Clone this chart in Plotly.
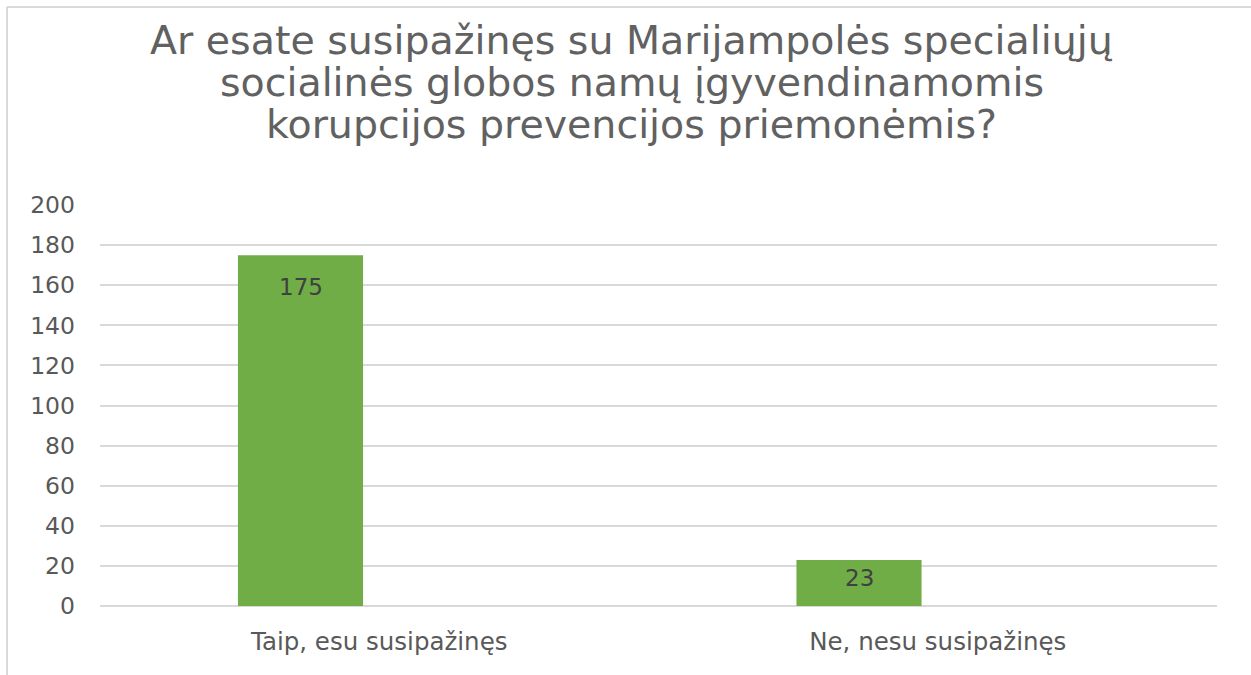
import plotly.graph_objects as go

categories = ["Taip, esu susipažinęs", "Ne, nesu susipažinęs"]
values = [175, 23]
y_ticks = [0, 20, 40, 60, 80, 100, 120, 140, 160, 180, 200]
title_lines = ["Ar esate susipažinęs su Marijampolės specialiųjų",
               "socialinės globos namų įgyvendinamomis",
               "korupcijos prevencijos priemonėmis?"]

W, H = 1251, 675
ML, MR, MT, MB = 100, 34, 205, 69
PW, PH = W - ML - MR, H - MT - MB

FONT = "DejaVu Sans"
GREY = "#595959"
GREEN = "#70AD47"


def px_to_paper_x(px):
    return (px - ML) / PW


def px_to_paper_y(py):
    return (H - MB - py) / PH


fig = go.Figure()
fig.add_trace(go.Bar(
    x=categories, y=values,
    marker=dict(color=GREEN, line=dict(width=0)),
    width=0.224, offset=-0.253,
    hoverinfo="skip",
))

label_shift = [-32, -18]
for c, v, s in zip(categories, values, label_shift):
    fig.add_annotation(x=c, y=v, text=str(v), showarrow=False,
                       xshift=-78, yshift=s, yanchor="middle",
                       font=dict(family=FONT, size=23, color="#404040"))

# title, one annotation per line (tight line spacing as in reference)
title_centers = [40, 82, 124]
for line, cy in zip(title_lines, title_centers):
    fig.add_annotation(xref="paper", yref="paper", x=px_to_paper_x(631.5),
                       y=px_to_paper_y(cy), text=line, showarrow=False,
                       xanchor="center", yanchor="middle",
                       font=dict(family=FONT, size=39.5, color="#616161"))

# chart border (top and left visible)
bx = px_to_paper_x(7)
by = px_to_paper_y(7)
fig.add_shape(type="line", xref="paper", yref="paper", x0=bx, x1=1.2, y0=by, y1=by,
              line=dict(color="#d9d9d9", width=2))
fig.add_shape(type="line", xref="paper", yref="paper", x0=bx, x1=bx, y0=by, y1=-0.3,
              line=dict(color="#d9d9d9", width=2))

fig.update_layout(
    width=W, height=H,
    margin=dict(l=ML, r=MR, t=MT, b=MB),
    paper_bgcolor="white", plot_bgcolor="white",
    showlegend=False,
    xaxis=dict(type="category", range=[-0.5, 1.5], showgrid=False, zeroline=False,
               showline=False, ticks="", tickfont=dict(family=FONT, size=24.5, color=GREY),
               ticklabelstandoff=18),
    yaxis=dict(range=[0, 200], tickvals=y_ticks, showgrid=True, gridcolor="#d9d9d9",
               gridwidth=1.8, zeroline=True, zerolinecolor="#d9d9d9", zerolinewidth=1.8,
               showline=False, ticks="", tickfont=dict(family=FONT, size=23.5, color=GREY),
               ticklabelstandoff=24),
)

fig.write_html("out.html", config={"displayModeBar": False},
               post_script="document.body.style.margin='0';")
